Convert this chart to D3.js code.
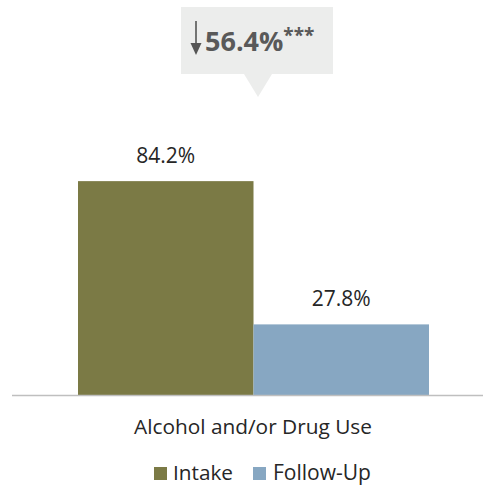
<!DOCTYPE html>
<html><head><meta charset="utf-8">
<script src="https://cdn.jsdelivr.net/npm/d3@7"></script>
<style>body{margin:0;background:#fff}</style>
</head><body>
<svg id="c" width="483" height="486"></svg>
<script>
const categories = ["Alcohol and/or Drug Use"];
const seriesNames = ["Intake", "Follow-Up"];
const intakeValues = [84.2];
const followUpValues = [27.8];
const changeLabel = "56.4%";
const significance = "***";
const colors = ["#7b7a45", "#87a7c2"];

const svg = d3.select("#c");
const font = "'Open Sans', sans-serif";
const y = d3.scaleLinear().domain([0, 100]).range([395, 141]);
const x0 = d3.scaleBand().domain(categories).range([78, 429]);
const x1 = d3.scaleBand().domain(seriesNames).range([0, x0.bandwidth()]);

const data = categories.map((c, i) => ({cat: c, vals: [intakeValues[i], followUpValues[i]]}));

function fitWidth(sel, w) {
  const bw = sel.node().getComputedTextLength();
  const fs = parseFloat(sel.attr("font-size"));
  sel.attr("font-size", (fs * w / bw).toFixed(2));
}

data.forEach(d => {
  const g = svg.append("g").attr("transform", `translate(${x0(d.cat)},0)`);
  seriesNames.forEach((s, j) => {
    g.append("rect").attr("x", x1(s)).attr("width", x1.bandwidth())
      .attr("y", y(d.vals[j])).attr("height", y(0) - y(d.vals[j]))
      .attr("fill", colors[j]);
    const t = g.append("text").attr("x", x1(s) + x1.bandwidth() / 2)
      .attr("y", y(d.vals[j]) - 18).attr("text-anchor", "middle")
      .attr("font-family", font).attr("font-size", 20).attr("fill", "#262626")
      .text(d.vals[j].toFixed(1) + "%");
    fitWidth(t, 59);
  });
});

// axis baseline
svg.append("line").attr("x1", 12).attr("x2", 483).attr("y1", y(0) + 0.5).attr("y2", y(0) + 0.5)
  .attr("stroke", "#bfbfbf").attr("stroke-width", 1.5);

const ct = svg.append("text").attr("x", 253).attr("y", 434).attr("text-anchor", "middle")
  .attr("font-family", font).attr("font-size", 20).attr("fill", "#262626").text(categories[0]);
fitWidth(ct, 238);

// legend
const leg = [{x: 154, tx: 173, w: 60}, {x: 253, tx: 273, w: 98}];
seriesNames.forEach((s, j) => {
  svg.append("rect").attr("x", leg[j].x).attr("y", 467).attr("width", 13).attr("height", 13).attr("fill", colors[j]);
  const lt = svg.append("text").attr("x", leg[j].tx).attr("y", 480).attr("font-family", font)
    .attr("font-size", 19).attr("fill", "#262626").text(s);
  fitWidth(lt, leg[j].w);
});

// callout
const cg = svg.append("g");
cg.append("rect").attr("x", 181).attr("y", 7).attr("width", 152).attr("height", 67).attr("fill", "#ecedec");
cg.append("path").attr("d", "M244,74 L272,74 L258,97 Z").attr("fill", "#ecedec");
// arrow
cg.append("line").attr("x1", 196).attr("x2", 196).attr("y1", 21).attr("y2", 50).attr("stroke", "#555").attr("stroke-width", 1.6);
cg.append("path").attr("d", "M190.5,43 L201.5,43 L196,55 Z").attr("fill", "#555");
const t = cg.append("text").attr("x", 205).attr("y", 51).attr("font-family", "'Open Sans', sans-serif")
  .attr("font-weight", "bold").attr("font-size", 27).attr("fill", "#595959");
t.append("tspan").text(changeLabel);
t.append("tspan").attr("font-size", 19).attr("dy", -9).text(significance);
</script>
</body></html>
